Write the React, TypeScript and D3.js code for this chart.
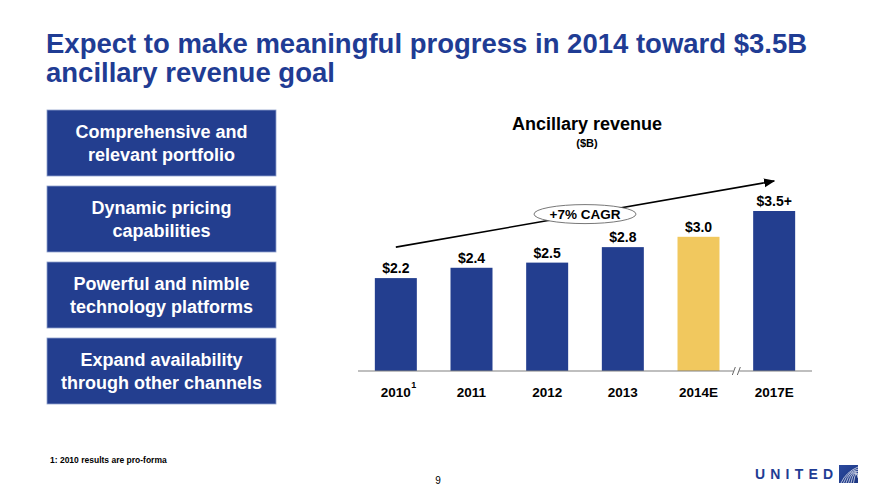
import React from "react";
import * as d3 from "d3";

const categories = ["2010", "2011", "2012", "2013", "2014E", "2017E"];
const values = [2.2, 2.4, 2.5, 2.8, 3.0, 3.5];
const valueLabels = ["$2.2", "$2.4", "$2.5", "$2.8", "$3.0", "$3.5+"];
const highlighted = ["2014E"];
const boxes = [
  ["Comprehensive and", "relevant portfolio"],
  ["Dynamic pricing", "capabilities"],
  ["Powerful and nimble", "technology platforms"],
  ["Expand availability", "through other channels"],
];
const cagrLabel = "+7% CAGR";
const cagrFrom = 2.8;
const cagrTo = 4.08;

const W = 880;
const H = 491;
const BLUE = "#233E8F";
const YELLOW = "#F1C85E";
const TITLE = "#1F3C94";
const FONT = "'Liberation Sans', Arial, Helvetica, sans-serif";

export default function App() {
  const x = d3
    .scaleBand<string>()
    .domain(categories)
    .range([358, 812])
    .paddingInner(0.445)
    .paddingOuter(0.2225);
  const y = d3.scaleLinear().domain([0.4, 3.5]).range([371, 211]);
  const bw = x.bandwidth();
  const cx = (c: string) => (x(c) as number) + bw / 2;

  const ax1 = cx(categories[0]);
  const ax2 = cx(categories[categories.length - 1]);
  const ay1 = y(cagrFrom);
  const ay2 = y(cagrTo);
  const ex = 585;
  const ey = ay1 + ((ex - ax1) / (ax2 - ax1)) * (ay2 - ay1);

  const breakX = ((x("2014E") as number) + bw + (x("2017E") as number)) / 2;

  return (
    <svg
      width={W}
      height={H}
      viewBox={`0 0 ${W} ${H}`}
      style={{ position: "absolute", left: 0, top: 0, background: "#fff" }}
      fontFamily={FONT}
    >
      <defs>
        <marker id="arr" viewBox="0 0 10 10" refX="9" refY="5" markerWidth="7" markerHeight="7" orient="auto">
          <path d="M0,1 L10,5 L0,9 z" fill="#000" />
        </marker>
        <linearGradient id="globe" x1="0" y1="0" x2="1" y2="1">
          <stop offset="0" stopColor="#2b4a9e" />
          <stop offset="1" stopColor="#1b3480" />
        </linearGradient>
      </defs>

      <rect width={W} height={H} fill="#fff" />

      {/* Title */}
      <text x={46} y={53} fontSize={27.5} fontWeight="bold" fill={TITLE}>
        Expect to make meaningful progress in 2014 toward $3.5B
      </text>
      <text x={46} y={82} fontSize={27.5} fontWeight="bold" fill={TITLE}>
        ancillary revenue goal
      </text>

      {/* Left boxes */}
      {boxes.map((lines, i) => {
        const top = 110 + i * 76;
        return (
          <g key={i}>
            <rect x={47} y={top} width={229} height={66} fill={BLUE} stroke="#8fa0cc" strokeWidth={0.8} />
            {lines.map((l, j) => (
              <text
                key={j}
                x={161.5}
                y={top + 28 + j * 23}
                textAnchor="middle"
                fontSize={18}
                fontWeight="bold"
                fill="#fff"
              >
                {l}
              </text>
            ))}
          </g>
        );
      })}

      {/* Chart title */}
      <text x={587} y={130} textAnchor="middle" fontSize={18} fontWeight="bold" fill="#000">
        Ancillary revenue
      </text>
      <text x={587} y={147} textAnchor="middle" fontSize={11} fontWeight="bold" fill="#000">
        ($B)
      </text>

      {/* Bars */}
      {categories.map((c, i) => (
        <g key={c}>
          <rect
            x={x(c)}
            y={y(values[i])}
            width={bw}
            height={y(0.4) - y(values[i])}
            fill={highlighted.includes(c) ? YELLOW : BLUE}
          />
          <text
            x={cx(c)}
            y={y(values[i]) - 5}
            textAnchor="middle"
            fontSize={14}
            fontWeight="bold"
            fill="#000"
          >
            {valueLabels[i]}
          </text>
          <text x={cx(c)} y={397} textAnchor="middle" fontSize={13.5} fontWeight="bold" fill="#000">
            {c}
          </text>
        </g>
      ))}
      <text x={cx(categories[0]) + 15.5} y={388} fontSize={9} fontWeight="bold" fill="#000">
        1
      </text>

      {/* Axis */}
      <line x1={358} x2={812} y1={y(0.4)} y2={y(0.4)} stroke="#808080" strokeWidth={1.2} />
      <rect x={breakX - 3} y={y(0.4) - 4} width={6} height={8} fill="#fff" />
      <line x1={breakX - 4} y1={y(0.4) + 4} x2={breakX - 1} y2={y(0.4) - 4} stroke="#555" strokeWidth={0.9} />
      <line x1={breakX + 1} y1={y(0.4) + 4} x2={breakX + 4} y2={y(0.4) - 4} stroke="#555" strokeWidth={0.9} />

      {/* CAGR arrow */}
      <line x1={ax1} y1={ay1} x2={ax2} y2={ay2} stroke="#000" strokeWidth={1.6} markerEnd="url(#arr)" />
      <ellipse cx={ex} cy={ey} rx={51} ry={9.5} fill="#fff" stroke="#555" strokeWidth={0.8} />
      <text x={ex} y={ey + 5} textAnchor="middle" fontSize={13.5} fontWeight="bold" fill="#000">
        {cagrLabel}
      </text>

      {/* Footnote */}
      <text x={50} y={463} fontSize={8.5} fontWeight="bold" fill="#000">
        1: 2010 results are pro-forma
      </text>
      <text x={438} y={484} textAnchor="middle" fontSize={10} fill="#000">
        9
      </text>

      {/* Logo */}
      <text x={755} y={479} fontSize={14} fontWeight="bold" fill={TITLE} letterSpacing={5.2}>
        UNITED
      </text>
      <g>
        <rect x={839} y={465} width={19} height={18} fill="url(#globe)" />
        {[0, 1, 2, 3, 4, 5].map((k) => (
          <path
            key={k}
            d={`M${841 + k * 2.5},483 Q${846 + k * 2},${472 - k} 858,${467 + k * 2.2}`}
            fill="none"
            stroke="#fff"
            strokeWidth={0.8}
            opacity={0.85}
          />
        ))}
      </g>
    </svg>
  );
}
